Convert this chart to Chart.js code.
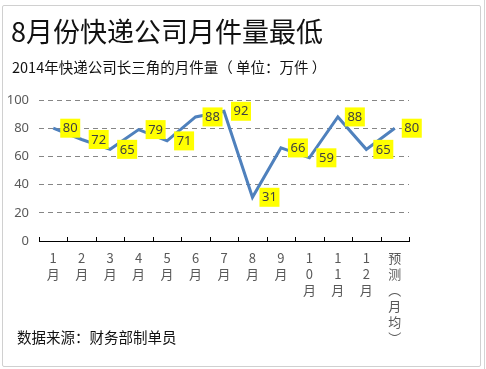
<!DOCTYPE html>
<html>
<head>
<meta charset="utf-8">
<script src="https://cdn.jsdelivr.net/npm/chart.js@4"></script>
<style>
  html, body { margin: 0; padding: 0; background: #fff; }
  body { width: 486px; height: 369px; position: relative; overflow: hidden;
         font-family: "Noto Sans CJK SC", "Noto Sans", sans-serif; }
  #frame { position: absolute; left: 2px; top: 5px; width: 477px; height: 360px;
           border: 1px solid #d0d0d0; border-radius: 2px; background: #fff; }
  #cellR { position: absolute; left: 484px; top: 0; width: 0; height: 369px;
           border-left: 1px solid #d4d4d4; }
  canvas { position: absolute; left: 0; top: 0; }
  .txt { position: absolute; white-space: nowrap; line-height: 1; color: #111; }
  #title { left: 11px; top: 17px; font-size: 27px; }
  #subtitle { left: 12px; top: 60px; font-size: 14.5px; }
  #source { left: 17px; top: 330px; font-size: 14.5px; }
</style>
</head>
<body>
<div id="cellR"></div>
<div id="frame"></div>
<canvas id="chart" width="486" height="369"></canvas>
<div class="txt" id="title">8月份快递公司月件量最低</div>
<div class="txt" id="subtitle">2014年快递公司长三角的月件量（ 单位：万件 ）</div>
<div class="txt" id="source">数据来源：财务部制单员</div>

<script>
// =========================
// DATA
// =========================

const MONTHS = [
  ["1", "月"], ["2", "月"], ["3", "月"], ["4", "月"], ["5", "月"], ["6", "月"],
  ["7", "月"], ["8", "月"], ["9", "月"], ["1", "0", "月"], ["1", "1", "月"],
  ["1", "2", "月"], ["预", "测", "︵", "月", "均", "︶"]
];

const VOLUMES = [80, 72, 65, 79, 71, 88, 92, 31, 66, 59, 88, 65, 80];

const Y_MIN = 0;
const Y_MAX = 100;
const Y_STEP = 20;


// =========================
// PLUGINS
// =========================

// small tick marks on the category axis, pointing up into the plot
const axisTicks = {
  id: "axisTicks",
  afterDraw(chart) {
    const x = chart.scales.x;
    const ctx = chart.ctx;
    const y0 = x.top;
    const n = chart.data.labels.length;
    const edges = [x.left];
    for (let i = 1; i < n; i++) {
      edges.push((x.getPixelForValue(i - 1) + x.getPixelForValue(i)) / 2);
    }
    edges.push(x.right);
    ctx.save();
    ctx.strokeStyle = "#000";
    ctx.lineWidth = 1;
    ctx.beginPath();
    edges.forEach(px => {
      const e = Math.round(px) + 0.5;
      ctx.moveTo(e, y0 - 4);
      ctx.lineTo(e, y0);
    });
    ctx.stroke();
    ctx.restore();
  }
};

// yellow value boxes to the right of each point
const valueBoxes = {
  id: "valueBoxes",
  afterDatasetsDraw(chart) {
    const ctx = chart.ctx;
    const meta = chart.getDatasetMeta(0);
    const values = chart.data.datasets[0].data;
    ctx.save();
    ctx.font = "13px 'Noto Sans', 'Liberation Sans', sans-serif";
    ctx.textAlign = "center";
    ctx.textBaseline = "middle";
    meta.data.forEach((pt, i) => {
      const bx = pt.x + 7;
      const by = pt.y - 9.5;
      ctx.fillStyle = "#ffff00";
      ctx.fillRect(bx, by, 20, 19);
      ctx.fillStyle = "#404040";
      ctx.fillText(String(values[i]), bx + 10, by + 10);
    });
    ctx.restore();
  }
};


// =========================
// RENDER
// =========================

new Chart(document.getElementById("chart").getContext("2d"), {
  type: "line",
  data: {
    labels: MONTHS,
    datasets: [{
      data: VOLUMES,
      borderColor: "#4f81bd",
      borderWidth: 3,
      pointRadius: 0,
      tension: 0,
      fill: false
    }]
  },
  options: {
    responsive: false,
    animation: false,
    layout: { padding: { top: 100, right: 77, bottom: 0, left: 0 } },
    plugins: {
      legend: { display: false },
      title: { display: false },
      tooltip: { enabled: false }
    },
    scales: {
      x: {
        type: "category",
        offset: true,
        grid: { display: false },
        border: { display: true, color: "#000", width: 1 },
        ticks: {
          color: "#595959",
          font: { size: 13, family: "'Noto Sans CJK SC', sans-serif", lineHeight: 1.23 },
          padding: 1,
          maxRotation: 0,
          autoSkip: false
        },
        afterFit(scale) { scale.height = 128; }
      },
      y: {
        min: Y_MIN,
        max: Y_MAX,
        grid: { color: "#868686", drawTicks: false },
        border: { display: false, dash: [5, 4] },
        ticks: {
          stepSize: Y_STEP,
          color: "#595959",
          font: { size: 13, family: "'Noto Sans', sans-serif" },
          padding: 10
        },
        afterFit(scale) { scale.width = 39; }
      }
    }
  },
  plugins: [axisTicks, valueBoxes]
});
</script>
</body>
</html>
